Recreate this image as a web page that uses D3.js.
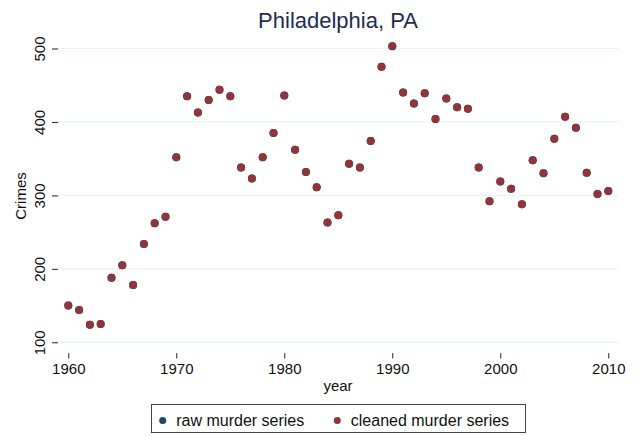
<!DOCTYPE html>
<html>
<head>
<meta charset="utf-8">
<script src="https://cdn.jsdelivr.net/npm/d3@7"></script>
<style>
body { margin: 0; background: #fff; }
text { font-family: "Liberation Sans", Arial, sans-serif; }
</style>
</head>
<body>
<svg width="639" height="436"></svg>
<script>
// data
var years = d3.range(1960, 2011);
var cleaned = [150, 144, 124, 125, 188, 205, 178, 234, 262, 271,
    352, 435, 413, 430, 444, 435, 338, 323, 352, 385,
    436, 362, 332, 311, 263, 273, 343, 338, 374, 475,
    503, 440, 425, 439, 404, 432, 420, 418, 338, 292,
    319, 309, 288, 348, 330, 377, 407, 392, 331, 302, 306];
// raw series sits exactly under the cleaned one
var raw = cleaned.slice();
var yTicks = [100, 200, 300, 400, 500];
var xTicks = [1960, 1970, 1980, 1990, 2000, 2010];

var plot = { left: 58, right: 618, top: 40, bottom: 353 };

var x = d3.scaleLinear().domain([1960, 2010]).range([68.3, 608.3]),
    y = d3.scaleLinear().domain([100, 500]).range([342.3, 48.5]);

var svg = d3.select("svg");

// gridlines
svg.append("g")
    .selectAll("line")
    .data(yTicks)
    .enter().append("line")
    .attr("x1", plot.left)
    .attr("x2", plot.right)
    .attr("y1", function(d) { return y(d); })
    .attr("y2", function(d) { return y(d); })
    .attr("stroke", "#eaf2f3")
    .attr("stroke-width", 1.2);

// y axis
var yAxis = svg.append("g")
    .attr("transform", "translate(" + plot.left + ",0)")
    .call(d3.axisLeft(y).tickValues(yTicks).tickSize(6).tickFormat(d3.format("d")));
yAxis.select(".domain").remove();
yAxis.selectAll(".tick line").attr("stroke", "#222");
yAxis.selectAll(".tick text")
    .attr("transform", function(d) { return "translate(-13," + y(0) * 0 + ")rotate(-90)"; })
    .attr("x", 0)
    .attr("y", 0)
    .attr("dy", 0)
    .attr("text-anchor", "middle")
    .style("font-size", "15px")
    .attr("fill", "#111");

// x axis
var xAxis = svg.append("g")
    .attr("transform", "translate(0," + plot.bottom + ")")
    .call(d3.axisBottom(x).tickValues(xTicks).tickSize(5.5).tickFormat(d3.format("d")));
xAxis.select(".domain").remove();
xAxis.selectAll(".tick line").attr("stroke", "#222");
xAxis.selectAll(".tick text")
    .attr("y", 21)
    .attr("dy", 0)
    .style("font-size", "15px")
    .attr("fill", "#111");

// axis titles
svg.append("text")
    .attr("x", 338)
    .attr("y", 391)
    .attr("text-anchor", "middle")
    .style("font-size", "15px")
    .attr("fill", "#111")
    .text("year");

svg.append("text")
    .attr("transform", "translate(26,196)rotate(-90)")
    .attr("text-anchor", "middle")
    .style("font-size", "15px")
    .attr("fill", "#111")
    .text("Crimes");

// title
svg.append("text")
    .attr("x", 338)
    .attr("y", 27.5)
    .attr("text-anchor", "middle")
    .style("font-size", "22px")
    .attr("fill", "#1e2d53")
    .text("Philadelphia, PA");

// points
svg.append("g")
    .selectAll("circle")
    .data(raw)
    .enter().append("circle")
    .attr("cx", function(d, i) { return x(years[i]); })
    .attr("cy", function(d) { return y(d); })
    .attr("r", 4)
    .attr("fill", "#1a476f");

svg.append("g")
    .selectAll("circle")
    .data(cleaned)
    .enter().append("circle")
    .attr("cx", function(d, i) { return x(years[i]); })
    .attr("cy", function(d) { return y(d); })
    .attr("r", 4)
    .attr("fill", "#90353b");

// legend
var legend = svg.append("g");
legend.append("rect")
    .attr("x", 151.5)
    .attr("y", 404.5)
    .attr("width", 374)
    .attr("height", 28)
    .attr("fill", "#fff")
    .attr("stroke", "#444")
    .attr("stroke-width", 1);

var items = [
    { label: "raw murder series", color: "#1a476f", x: 162.7 },
    { label: "cleaned murder series", color: "#90353b", x: 337.3 }
];
var item = legend.selectAll(".item")
    .data(items)
    .enter().append("g")
    .attr("class", "item")
    .attr("transform", function(d) { return "translate(" + d.x + ",420.5)"; });
item.append("circle")
    .attr("r", 3.5)
    .attr("fill", function(d) { return d.color; });
item.append("text")
    .attr("x", 13.5)
    .attr("y", 5.5)
    .style("font-size", "16px")
    .attr("fill", "#111")
    .text(function(d) { return d.label; });
</script>
</body>
</html>
